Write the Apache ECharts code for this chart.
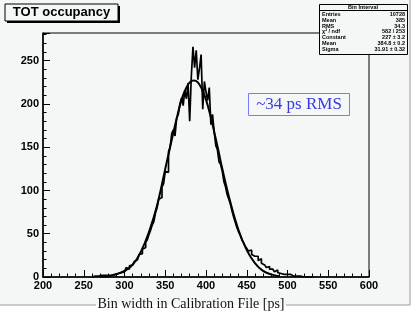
<!DOCTYPE html>
<html><head><meta charset="utf-8">
<script src="https://cdn.jsdelivr.net/npm/echarts@6/dist/echarts.min.js"></script>
<style>html,body{margin:0;padding:0;background:#ffffff;}#c{width:415px;height:313px;}</style>
</head><body><div id="c"></div>
<script>
// x-axis ticks and labels
const xTicks = [200, 250, 300, 350, 400, 450, 500, 550, 600];
const yTicks = [0, 50, 100, 150, 200, 250];
// histogram: bin lower edge start, bin width, counts per bin
const histStart = 260;
const histBinWidth = 2;
const histCounts = [
  0,1,0,1,1,   2,1,2,3,2,   3,2,4,3,5,   4,6,5,7,6,
  8,11,9,13,14,  12,18,20,18,26,  27,32,34,40,43,  49,54,60,64,74,
  80,90,92,104,108,  122,121,145,150,166,  170,163,184,188,200,  207,198,216,206,224,
  180,232,266,242,262,  228,241,257,194,226,  214,204,219,176,188,  168,152,147,133,130,
  122,110,104,95,90,  84,76,69,63,57,  52,48,43,40,36,  33,30,31,26,24,
  22,24,19,21,16,  14,15,11,12,9,  9,7,6,8,5,  4,5,3,4,3,
  2,3,2,1,2,  1,2,1,1,0,  1,0,1,0,1,  0
];
// fitted curve
const fitX = [270,280,290,300,310,320,330,340,350,355,360,365,370,375,380,385,390,395,400,405,410,415,420,430,440,450,460,470,480,490];
const fitY = [0.5,1,3,7,14,29,52,83,125,146,167,187,205,217,225,227,225,217,205,188,168,147,125,86,54,31,16,7,3,1];
// stats box
const statsTitle = 'Bin Interval';
const statsNames = ['Entries', 'Mean', 'RMS', 'χ² / ndf', 'Constant', 'Mean', 'Sigma'];
const statsValues = ['10728', '385', '34.3', '582 / 253', '227 ± 3.2', '384.8 ± 0.2', '31.91 ± 0.32'];
const titleText = 'TOT occupancy';
const noteText = '~34 ps RMS';
const xTitle = 'Bin width in Calibration File [ps]';

const histData = histCounts.map((c, i) => [histStart + i * histBinWidth, c]);
histData.push([histStart + histCounts.length * histBinWidth, histCounts[histCounts.length - 1]]);
const fitData = fitX.map((x, i) => [x, fitY[i]]);

const BG = '#f5f7f7';
const chart = echarts.init(document.getElementById('c'), null, {renderer: 'canvas'});

const graphics = [
  {type: 'rect', shape: {x: 0, y: 0, width: 410, height: 305}, style: {fill: BG}, z: -10, silent: true},
  {type: 'line', shape: {x1: 0, y1: 305, x2: 96, y2: 305}, style: {stroke: '#9a9a9a', lineWidth: 1}},
  {type: 'line', shape: {x1: 286, y1: 305, x2: 410, y2: 305}, style: {stroke: '#9a9a9a', lineWidth: 1}},
  {type: 'line', shape: {x1: 410, y1: 0, x2: 410, y2: 305}, style: {stroke: '#9a9a9a', lineWidth: 1}},
  {type: 'text', x: 191, y: 304, style: {text: xTitle, font: '14px "Liberation Serif"', fill: '#111', align: 'center', verticalAlign: 'middle'}},
  // title box
  {type: 'rect', shape: {x: 7, y: 6, width: 113, height: 17}, style: {fill: '#000'}, z: 10},
  {type: 'rect', shape: {x: 5, y: 4, width: 113, height: 17}, style: {fill: BG, stroke: '#000', lineWidth: 1}, z: 11},
  {type: 'text', x: 61.5, y: 12.5, style: {text: titleText, font: 'bold 13px "Liberation Sans"', fill: '#000', align: 'center', verticalAlign: 'middle'}, z: 12},
  // note box
  {type: 'rect', shape: {x: 248.5, y: 93.5, width: 101, height: 22}, style: {fill: BG, stroke: '#7a7aff', lineWidth: 1}, z: 10},
  {type: 'text', x: 299, y: 105, style: {text: noteText, font: '17px "Liberation Serif"', fill: '#3a3ae0', align: 'center', verticalAlign: 'middle'}, z: 11},
  // stats box
  {type: 'rect', shape: {x: 319.5, y: 4.5, width: 88, height: 50}, style: {fill: BG, stroke: '#000', lineWidth: 1}, z: 10},
  {type: 'line', shape: {x1: 319.5, y1: 10.5, x2: 407.5, y2: 10.5}, style: {stroke: '#000', lineWidth: 1}, z: 11},
  {type: 'text', x: 363, y: 7.5, style: {text: statsTitle, font: 'bold 5.5px "Liberation Sans"', fill: '#000', align: 'center', verticalAlign: 'middle'}, z: 11}
];
statsNames.forEach((n, i) => {
  const y = 14.5 + i * 5.8;
  graphics.push({type: 'text', x: 322, y: y, style: {text: n, font: 'bold 5.5px "Liberation Sans"', fill: '#000', align: 'left', verticalAlign: 'middle'}, z: 11});
  graphics.push({type: 'text', x: 405, y: y, style: {text: statsValues[i], font: 'bold 5.5px "Liberation Sans"', fill: '#000', align: 'right', verticalAlign: 'middle'}, z: 11});
});

chart.setOption({
  backgroundColor: 'transparent',
  animation: false,
  grid: {left: 43, right: 46, top: 33, bottom: 36, show: true, borderColor: '#000', borderWidth: 1, backgroundColor: 'transparent'},
  xAxis: {
    type: 'value', min: xTicks[0], max: xTicks[xTicks.length - 1], interval: 50,
    axisLine: {lineStyle: {color: '#000', width: 1.5}},
    axisTick: {inside: true, length: 7, lineStyle: {color: '#000'}},
    minorTick: {show: true, splitNumber: 5, length: 3.5, lineStyle: {color: '#000'}},
    splitLine: {show: false},
    axisLabel: {color: '#000', fontFamily: 'Liberation Sans', fontWeight: 'bold', fontSize: 11, margin: 3}
  },
  yAxis: {
    type: 'value', min: yTicks[0], max: 282, interval: 50,
    axisLine: {show: true, lineStyle: {color: '#000', width: 1.5}},
    axisTick: {inside: true, length: 7, lineStyle: {color: '#000'}},
    minorTick: {show: true, splitNumber: 5, length: 3.5, lineStyle: {color: '#000'}},
    splitLine: {show: false},
    axisLabel: {color: '#000', fontFamily: 'Liberation Sans', fontWeight: 'bold', fontSize: 11, margin: 4, showMaxLabel: false,
      formatter: v => (yTicks.indexOf(v) >= 0 ? String(v) : '')}
  },
  series: [
    {type: 'line', data: histData, step: 'end', showSymbol: false, symbol: 'none',
     lineStyle: {color: '#000', width: 1.7}, z: 3},
    {type: 'line', data: fitData, smooth: 0.4, showSymbol: false, symbol: 'none',
     lineStyle: {color: '#000', width: 2}, z: 4}
  ],
  graphic: graphics
});
</script></body></html>
